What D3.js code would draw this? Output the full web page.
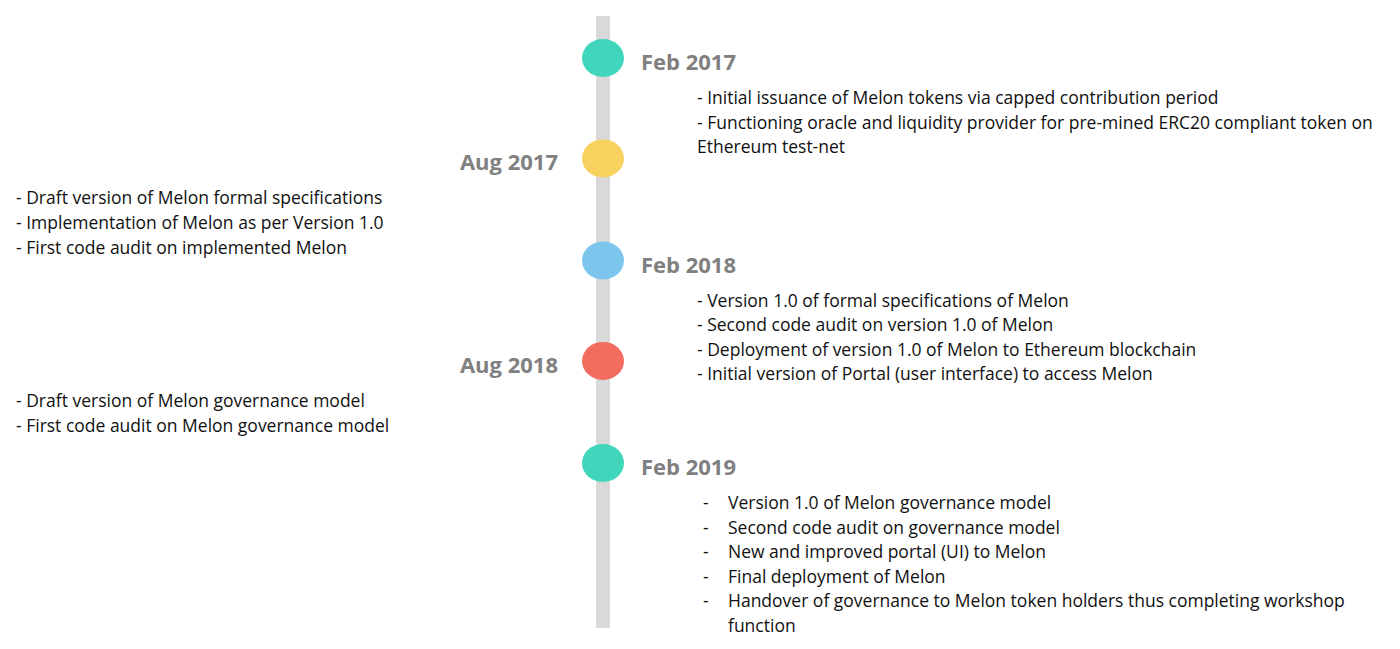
<!DOCTYPE html>
<html><head><meta charset="utf-8">
<script src="https://cdn.jsdelivr.net/npm/d3@7"></script>
<style>body{margin:0;background:#fff}</style>
</head><body>
<script>
// milestones on the timeline
const dates = ["2017-02", "2017-08", "2018-02", "2018-08", "2019-02"];
const labels = ["Feb 2017", "Aug 2017", "Feb 2018", "Aug 2018", "Feb 2019"];
const sides = ["right", "left", "right", "left", "right"];
const colors = ["#3fd6bb", "#f8d25e", "#7cc6ed", "#f26c5f", "#3fd6bb"];
const notes = [
  ["- Initial issuance of Melon tokens via capped contribution period",
   "- Functioning oracle and liquidity provider for pre-mined ERC20 compliant token on",
   "Ethereum test-net"],
  ["- Draft version of Melon formal specifications",
   "- Implementation of Melon as per Version 1.0",
   "- First code audit on implemented Melon"],
  ["- Version 1.0 of formal specifications of Melon",
   "- Second code audit on version 1.0 of Melon",
   "- Deployment of version 1.0 of Melon to Ethereum blockchain",
   "- Initial version of Portal (user interface) to access Melon"],
  ["- Draft version of Melon governance model",
   "- First code audit on Melon governance model"],
  ["Version 1.0 of Melon governance model",
   "Second code audit on governance model",
   "New and improved portal (UI) to Melon",
   "Final deployment of Melon",
   "Handover of governance to Melon token holders thus completing workshop",
   "function"]
];

const W = 1400, H = 649, cx = 603;
const parse = d3.timeParse("%Y-%m");
const y = d3.scaleTime().domain([parse("2017-02"), parse("2019-02")]).range([58, 463]);

const svg = d3.select("body").append("svg").attr("width", W).attr("height", H)
  .style("font-family", "'Open Sans', sans-serif");

svg.append("rect").attr("x", cx - 7).attr("y", 16).attr("width", 14).attr("height", 612).attr("fill", "#d9d9d9");

const g = svg.selectAll("g.ev").data(dates).join("g").attr("class", "ev");
g.append("ellipse").attr("cx", cx).attr("cy", d => y(parse(d))).attr("rx", 21).attr("ry", 19)
  .attr("fill", (d, i) => colors[i]);
g.append("text")
  .attr("x", (d, i) => sides[i] === "right" ? 641 : 558)
  .attr("y", d => y(parse(d)) + 12)
  .attr("text-anchor", (d, i) => sides[i] === "right" ? "start" : "end")
  .attr("font-size", 22).attr("font-weight", "bold").attr("fill", "#808080")
  .text((d, i) => labels[i]);

const lh = 24.6;
notes.forEach((lines, i) => {
  const y0 = y(parse(dates[i])) + 46;
  const last = i === notes.length - 1;
  lines.forEach((t, j) => {
    const x = sides[i] === "left" ? 16 : (last ? 728 : 697);
    const ty = y0 + j * lh;
    svg.append("text").attr("x", x).attr("y", ty).attr("font-size", 17.5).attr("fill", "#111").text(t);
    if (last && j < lines.length - 1)
      svg.append("text").attr("x", 703).attr("y", ty).attr("font-size", 17.5).attr("fill", "#111").text("-");
  });
});
</script>
</body></html>
